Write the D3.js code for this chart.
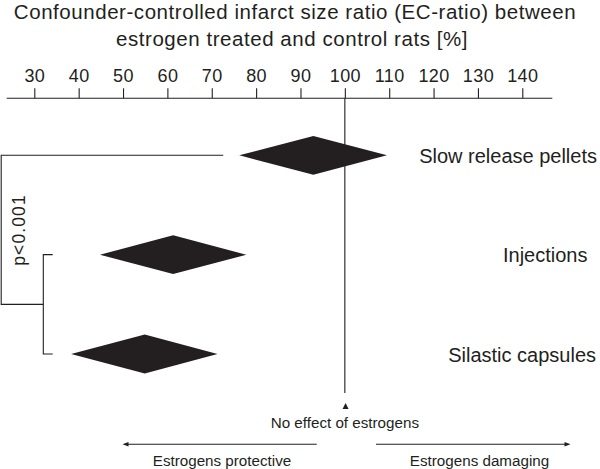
<!DOCTYPE html>
<html><head><meta charset="utf-8">
<script src="https://cdn.jsdelivr.net/npm/d3@7"></script>
<style>
html,body{margin:0;padding:0;background:#fff;}
svg{display:block;font-family:"Liberation Sans",Arial,Helvetica,sans-serif;}
</style></head>
<body><div id="chart"></div>
<script>
// ---- data ----
const categories = ["Slow release pellets", "Injections", "Silastic capsules"];
const ecRatio    = [92.9, 61.3, 54.9];   // point estimate (%)
const ciLow      = [76.2, 44.8, 38.3];   // lower bound (%)
const ciHigh     = [109.5, 77.8, 71.3];  // upper bound (%)
const tickValues = [30, 40, 50, 60, 70, 80, 90, 100, 110, 120, 130, 140];
const titleLines = ["Confounder-controlled infarct size ratio (EC-ratio) between",
                    "estrogen treated and control rats [%]"];
const pLabel = "p<0.001";
const noEffectLabel = "No effect of estrogens";
const protectiveLabel = "Estrogens protective";
const damagingLabel = "Estrogens damaging";

// ---- layout ----
const W = 600, H = 469, ink = "#231f20";
const axisY = 98.3;
const labelEnds = [597, 587.5, 596];

const svg = d3.select("#chart").append("svg").attr("width", W).attr("height", H);

const x = d3.scaleLinear().domain([30, 140]).range([34.3, 522.3]);
const y = d3.scalePoint().domain(categories).range([155.3, 354]);

// title
svg.append("g").selectAll("text").data(titleLines).join("text")
  .attr("x", (d, i) => i === 0 ? 295 : 292)
  .attr("y", (d, i) => 19 + i * 27)
  .attr("text-anchor", "middle")
  .attr("font-size", 20.5).attr("letter-spacing", 0.55).attr("fill", ink)
  .text(d => d);

// axis
const axis = d3.axisTop(x).tickValues(tickValues).tickSize(10).tickPadding(6).tickFormat(d3.format("d"));
const gAxis = svg.append("g").attr("transform", `translate(0,${axisY})`).call(axis);
gAxis.select(".domain").remove();
gAxis.selectAll(".tick line").attr("stroke", ink).attr("stroke-width", 1.1);
gAxis.selectAll(".tick text").attr("fill", ink).attr("font-size", 18).attr("letter-spacing", 0.4)
  .attr("font-family", "'Liberation Sans',Arial,sans-serif");
svg.append("line").attr("x1", 6.7).attr("x2", 552.3).attr("y1", axisY).attr("y2", axisY)
  .attr("stroke", ink).attr("stroke-width", 1.1);

// vertical line at 100
svg.append("line").attr("x1", x(100)).attr("x2", x(100)).attr("y1", axisY).attr("y2", 393)
  .attr("stroke", ink).attr("stroke-width", 1.1);

// diamonds
const halfH = 19.4;
const rows = categories.map((c, i) => ({c, m: ecRatio[i], lo: ciLow[i], hi: ciHigh[i], end: labelEnds[i]}));
svg.append("g").selectAll("path").data(rows).join("path")
  .attr("d", d => {
    const cy = y(d.c);
    return `M${x(d.lo)},${cy}L${x(d.m)},${cy - halfH}L${x(d.hi)},${cy}L${x(d.m)},${cy + halfH}Z`;
  })
  .attr("fill", ink);

// category labels
svg.append("g").selectAll("text").data(rows).join("text")
  .attr("x", d => d.end).attr("y", d => y(d.c) + 7.6)
  .attr("text-anchor", "end").attr("font-size", 20).attr("fill", ink)
  .text(d => d.c);

// brackets
const br = svg.append("g").attr("fill", "none").attr("stroke", ink).attr("stroke-width", 1.1);
const yInj = y(categories[1]), ySil = y(categories[2]), ySlow = y(categories[0]);
const yMid = (yInj + ySil) / 2;
br.append("path").attr("d", `M52.7,${yInj}H43.3V${ySil}H52.7`);
br.append("path").attr("d", `M43.3,${yMid}H1.2V${ySlow}H${x(ciLow[0]) - 16}`);

svg.append("text").attr("transform", `translate(24.5,${230}) rotate(-90)`)
  .attr("text-anchor", "middle").attr("font-size", 17.5).attr("letter-spacing", 1.1)
  .attr("fill", ink).text(pLabel);

// bottom annotations
svg.append("path").attr("d", `M${x(100) + 0.7},403L${x(100) + 3.7},409L${x(100) - 2.3},409Z`).attr("fill", ink);
svg.append("text").attr("x", x(100)).attr("y", 427.5).attr("text-anchor", "middle")
  .attr("font-size", 15.2).attr("fill", ink).text(noEffectLabel);

const arrowY = 444.3;
const arr = svg.append("g");
arr.append("line").attr("x1", 126).attr("x2", 316.7).attr("y1", arrowY).attr("y2", arrowY).attr("stroke", ink).attr("stroke-width", 1.1);
arr.append("path").attr("d", `M122.5,${arrowY}L128.5,${arrowY - 2.3}L128.5,${arrowY + 2.3}Z`).attr("fill", ink);
arr.append("line").attr("x1", 376).attr("x2", 567).attr("y1", arrowY).attr("y2", arrowY).attr("stroke", ink).attr("stroke-width", 1.1);
arr.append("path").attr("d", `M570.5,${arrowY}L564.5,${arrowY - 2.3}L564.5,${arrowY + 2.3}Z`).attr("fill", ink);

svg.append("text").attr("x", 222).attr("y", 465.5).attr("text-anchor", "middle")
  .attr("font-size", 15.2).attr("fill", ink).text(protectiveLabel);
svg.append("text").attr("x", 479.5).attr("y", 465.5).attr("text-anchor", "middle")
  .attr("font-size", 15.2).attr("fill", ink).text(damagingLabel);
</script>
</body></html>
